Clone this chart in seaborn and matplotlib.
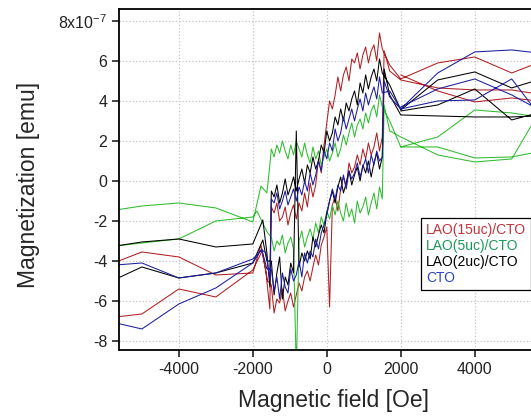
import matplotlib
matplotlib.use("Agg")
import matplotlib.pyplot as plt
from matplotlib.lines import Line2D
from matplotlib.ticker import FuncFormatter
import seaborn as sns

# magnetization in units of 1e-7 emu, field in Oe

# field steps of the noisy part of the sweep, going down
h_down = [1500, 1425, 1350, 1275, 1200, 1125, 1050, 975, 900, 825, 750, 675, 600,
          525, 450, 375, 300, 225, 150, 75, 0, -75, -150, -225, -300, -375, -450,
          -525, -600, -675, -750, -825, -900, -975, -1050, -1125, -1200, -1275,
          -1350, -1425, -1500]
h_up = h_down[::-1]

# start of each sweep, coming in from high field
h_start = [5700, 5000, 4000, 3000, 2000, 1700]

# LAO(15uc)/CTO
red_start_m = [5.9, 5.4, 6.2, 5.9, 5.1, 5.8]
red_down_m = [6.6, 7.4, 6.0, 6.8, 6.5, 5.9, 6.7, 6.3, 5.6, 6.4, 5.9, 6.1, 5.0, 5.7, 5.3,
              4.5, 5.2, 4.3, 3.6, 4.0, 2.9, 1.8, 0.4, 1.1, -0.2, -0.8, -0.1, -1.3, -0.6,
              -1.5, -1.1, -1.9, -1.2, -1.6, -2.2, -1.3, -1.8, -2.0, -1.1, -1.6, -1.3]
red_left_h = [-1540, -1650, -1780, -2000, -3000, -4000, -5000, -5700,
              -5700, -5000, -4000, -3000, -2000, -1750, -1600]
red_left_m = [-6.4, -4.5, -3.2, -4.6, -4.7, -3.8, -3.55, -4.05,
              -6.8, -6.65, -5.4, -5.8, -4.45, -3.5, -5.0]
red_up_m = [-5.2, -6.6, -5.9, -6.1, -5.4, -6.5, -6.0, -5.6, -6.3, -5.7, -5.1, -5.5, -4.8,
            -4.5, -5.0, -4.3, -3.7, -4.2, -3.2, -2.8, -2.3, -6.3, -1.2, -0.8, -1.5, -0.4,
            0.2, -0.3, 0.9, 0.4, 0.7, 1.3, 0.8, 1.6, 1.1, 1.9, 1.3, 1.7, 2.4, 1.5, 2.2]
red_right_h = [1550, 1700, 2000, 3000, 4000, 5000, 5700, 5700, 5000, 4000, 3000, 2000]
red_right_m = [6.5, 5.5, 5.05, 4.65, 4.55, 4.55, 4.35, 4.0, 4.15, 3.95, 4.5, 5.3]

# LAO(5uc)/CTO
green_start_m = [3.2, 3.4, 3.55, 2.2, 1.7, 3.0]
green_down_m = [3.7, 4.3, 3.2, 3.8, 3.5, 2.9, 3.4, 2.6, 3.1, 2.8, 2.2, 2.9, 2.4, 1.8, 2.3,
                1.6, 1.2, 1.9, 1.4, 1.0, 1.6, 1.2, 0.8, 1.5, 1.1, 1.7, 0.9, 1.3, 1.9, 1.2,
                1.6, 2.0, 1.3, 1.8, 1.1, 1.5, 2.0, 1.4, 1.8, 1.2, 1.6]
green_left_h = [-1540, -1620, -1780, -2000, -3000, -4000, -5000, -5700,
                -5700, -5000, -4000, -3000, -2000, -1890, -1600]
green_left_m = [0.8, -0.6, -0.25, -2.05, -1.35, -1.1, -1.25, -1.45,
                -3.25, -3.1, -2.9, -2.0, -1.8, -1.5, -2.6]
green_up_m = [-2.8, -3.5, -3.0, -3.2, -2.7, -3.6, -3.1, -2.8, -3.4, -9.5, -3.0, -2.5, -3.3,
              -2.8, -2.4, -2.9, -2.1, -2.6, -1.8, -2.2, -1.5, -1.9, -1.2, -1.7, -1.0, -1.6,
              -2.0, -1.1, -1.8, -1.4, -2.1, -1.0, -1.6, -1.3, -0.8, -1.7, -1.1, -0.6, -1.4,
              -0.3, -0.9]
green_right_h = [1550, 1700, 2000, 3000, 4000, 5000, 5700, 5700, 5000, 4000, 3000, 2000]
green_right_m = [3.8, 2.5, 2.2, 1.3, 0.95, 1.1, 3.3, 1.45, 1.2, 1.15, 1.7, 1.7]

# LAO(2uc)/CTO
black_start_m = [5.05, 4.65, 5.45, 5.05, 3.55, 4.8]
black_down_m = [5.4, 6.1, 5.0, 5.6, 5.2, 4.6, 5.3, 4.4, 4.9, 3.8, 4.5, 4.1, 3.5, 3.9, 3.0,
                3.6, 2.8, 3.2, 2.4, 2.0, 2.5, 1.4, 1.8, 1.0, 0.6, 1.2, 0.4, 0.8, -0.1, 0.6,
                0.1, -0.5, 0.2, -0.3, -0.7, 0.1, -0.6, -1.1, -0.2, -0.8, -0.5]
black_left_h = [-1540, -1620, -1730, -2000, -3000, -4000, -5000, -5700,
                -5700, -5000, -4000, -3000, -2000, -1730, -1620]
black_left_m = [-5.3, -3.6, -1.95, -3.15, -3.3, -2.9, -3.05, -3.25,
                -4.9, -4.3, -4.85, -4.6, -4.1, -2.95, -4.0]
black_up_m = [-4.0, -5.7, -4.6, -3.8, -5.9, -4.8, -5.2, -4.1, -4.6, 2.5, -4.3, -3.6, -4.0,
              -3.5, -3.9, -2.8, -3.3, -2.7, -2.2, -2.6, -1.6, -1.0, -0.5, -1.1, -0.3, 0.2,
              -0.6, -0.1, 0.5, -0.2, 0.3, 0.7, 0.0, 0.8, 0.4, 1.0, 0.2, 0.9, 1.4, 0.6, 1.2]
black_right_h = [1550, 1700, 2000, 3000, 4000, 5000, 5700, 5700, 5000, 4000, 3000, 2000]
black_right_m = [5.6, 4.3, 3.3, 3.25, 3.2, 3.2, 3.25, 3.4, 3.05, 4.6, 3.8, 3.5]

# CTO
blue_start_m = [6.4, 6.55, 6.45, 5.4, 3.6, 4.5]
blue_down_m = [4.4, 5.2, 4.1, 4.7, 4.3, 3.8, 4.4, 3.5, 4.1, 3.6, 3.0, 3.6, 3.1, 2.6, 3.2,
               2.4, 2.0, 2.6, 1.5, 1.9, 1.1, 1.5, 0.5, 1.0, 0.3, -0.2, 0.4, -0.5, 0.0, -0.7,
               -0.3, -1.0, -0.4, -0.8, -1.2, -0.5, -1.0, -1.4, -0.6, -1.1, -0.9]
blue_left_h = [-1540, -1640, -1760, -2000, -3000, -4000, -5000, -5700,
               -5700, -5000, -4000, -3000, -2000, -1760, -1620]
blue_left_m = [-5.0, -3.6, -3.45, -3.9, -4.6, -4.85, -4.1, -4.2,
               -7.1, -7.4, -6.15, -5.35, -4.1, -3.4, -4.4]
blue_up_m = [-4.4, -5.5, -4.8, -5.9, -4.6, -5.3, -5.6, -4.4, -5.0, -4.7, -4.0, -4.8, -3.6,
             -4.1, -3.5, -3.8, -2.9, -3.4, -2.6, -2.2, -1.7, -1.0, -0.4, -0.9, -0.2, -0.5,
             0.3, -0.4, 0.5, 0.1, 0.4, 0.9, 0.2, 0.7, 1.1, 0.4, 1.3, 0.8, 1.5, 1.0, 1.2]
blue_right_h = [1550, 1700, 2000, 3000, 4000, 5000, 5700, 5700, 5000, 4000, 3000, 2000]
blue_right_m = [5.0, 4.2, 3.6, 4.0, 4.05, 5.1, 3.4, 3.6, 4.3, 5.1, 4.6, 3.7]

labels = ["LAO(15uc)/CTO", "LAO(5uc)/CTO", "LAO(2uc)/CTO", "CTO"]
line_colors = ["#b01e22", "#2ebd2e", "#000000", "#1c1ca0"]
text_colors = ["#c4343a", "#1a9a5a", "#000000", "#2a44c8"]

loops = [
    (red_start_m, red_down_m, red_left_h, red_left_m, red_up_m, red_right_h, red_right_m),
    (green_start_m, green_down_m, green_left_h, green_left_m, green_up_m, green_right_h, green_right_m),
    (black_start_m, black_down_m, black_left_h, black_left_m, black_up_m, black_right_h, black_right_m),
    (blue_start_m, blue_down_m, blue_left_h, blue_left_m, blue_up_m, blue_right_h, blue_right_m),
]

sns.set_style("white")
plt.rcParams['font.family'] = ['Liberation Sans', 'DejaVu Sans']
plt.rcParams['mathtext.default'] = 'regular'
plt.rcParams['axes.unicode_minus'] = False

fig = plt.figure(figsize=(5.31, 4.2), dpi=100)
ax = fig.add_axes([0.224, 0.1667, 0.7815, 0.812])

for (start_m, down_m, left_h, left_m, up_m, right_h, right_m), c in zip(loops, line_colors):
    h = h_start + h_down + left_h + h_up + right_h
    m = start_m + down_m + left_m + up_m + right_m
    sns.lineplot(x=h, y=m, sort=False, estimator=None, color=c, lw=0.75, ax=ax)

ax.set_xlim(-5620, 5600)
ax.set_ylim(-8.45, 8.6)
ax.set_xticks([-4000, -2000, 0, 2000, 4000])
ax.set_yticks([-8, -6, -4, -2, 0, 2, 4, 6, 8])


def fmt_y(v, pos):
    if round(v) == 8:
        return "8x10$^{-7}$"
    return "%d" % round(v)


ax.yaxis.set_major_formatter(FuncFormatter(fmt_y))
ax.grid(True, linestyle=':', color='#c4c4c4', lw=0.9)
ax.tick_params(axis='both', direction='out', length=5, width=1.2, labelsize=11.5,
               left=True, bottom=True, colors='#222222')
for side in ['left', 'bottom', 'top']:
    ax.spines[side].set_color('black')
    ax.spines[side].set_linewidth(1.3)
ax.spines['right'].set_visible(False)

ax.set_xlabel("Magnetic field [Oe]", fontsize=16.5)
ax.set_ylabel("Magnetization [emu]", fontsize=16.5)
ax.xaxis.set_label_coords(0.518, -0.115)
ax.yaxis.set_label_coords(-0.19, 0.484)

handles = [Line2D([], [], linestyle='none') for _ in labels]
leg = ax.legend(handles, labels, loc='upper left', bbox_to_anchor=(421 / 531, 1 - 218 / 420),
                bbox_transform=fig.transFigure, handlelength=0, handletextpad=0,
                borderpad=0.35, borderaxespad=0, labelspacing=0.15, fontsize=10,
                frameon=True, fancybox=False, edgecolor='black', framealpha=1,
                labelcolor=text_colors)
leg.get_frame().set_linewidth(0.9)

fig.savefig("out.png", dpi=100)
